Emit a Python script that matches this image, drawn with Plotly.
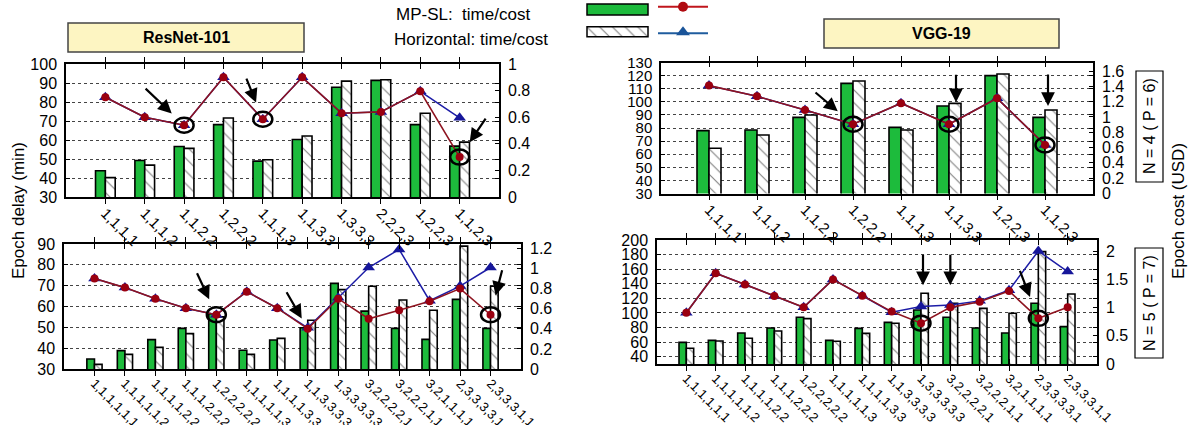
import plotly.graph_objects as go

W, H = 1195, 425

# ---------------- data ----------------
cats_n4_resnet = ["1,1,1,1", "1,1,1,2", "1,1,2,2", "1,2,2,2", "1,1,1,3",
                  "1,1,3,3", "1,3,3,3", "2,2,2,3", "1,2,2,3", "1,1,2,3"]
resnet4_mpsl_time = [43.8, 49.2, 56.6, 68.1, 48.9, 60.3, 87.8, 91.4, 68.1, 56.8]
resnet4_hor_time = [40.2, 46.8, 55.6, 71.6, 49.6, 62.1, 91.0, 91.7, 74.1, 58.9]
resnet4_mpsl_cost = [0.75, 0.60, 0.54, 0.90, 0.585, 0.90, 0.63, 0.64, 0.795, 0.30]
resnet4_hor_cost = [0.75, 0.60, 0.54, 0.90, 0.585, 0.90, 0.63, 0.64, 0.795, 0.595]

cats_n4_vgg = ["1,1,1,1", "1,1,1,2", "1,1,2,2", "1,2,2,2", "1,1,1,3",
               "1,1,3,3", "1,2,2,3", "1,1,2,3"]
vgg4_mpsl_time = [78.0, 78.5, 88.1, 114.1, 80.5, 96.8, 120.0, 88.1]
vgg4_hor_time = [64.5, 74.7, 89.9, 115.9, 78.5, 98.8, 121.2, 93.7]
vgg4_mpsl_cost = [1.41, 1.27, 1.09, 0.905, 1.18, 0.905, 1.245, 0.635]
vgg4_hor_cost = [1.41, 1.27, 1.09, 0.905, 1.18, 0.905, 1.245, 0.635]

cats_n5 = ["1,1,1,1,1,1", "1,1,1,1,1,2", "1,1,1,1,2,2", "1,1,1,2,2,2",
           "1,2,2,2,2,2", "1,1,1,1,1,3", "1,1,1,1,3,3", "1,1,3,3,3,3",
           "1,3,3,3,3,3", "3,2,2,2,2,1", "3,2,2,2,1,1", "3,2,1,1,1,1",
           "2,3,3,3,3,1", "2,3,3,3,1,1"]
resnet5_mpsl_time = [34.8, 38.8, 44.1, 49.5, 56.5, 39.0, 43.9, 49.8, 71.1, 57.8, 49.5, 44.2, 63.4, 49.5]
resnet5_hor_time = [32.2, 37.0, 40.4, 47.0, 55.0, 37.0, 44.7, 53.4, 68.1, 69.7, 63.1, 58.2, 89.0, 69.7]
resnet5_mpsl_cost = [0.90, 0.81, 0.70, 0.605, 0.54, 0.77, 0.605, 0.40, 0.70, 0.50, 0.585, 0.675, 0.80, 0.54]
resnet5_hor_cost = [0.90, 0.81, 0.70, 0.605, 0.54, 0.77, 0.605, 0.41, 0.71, 1.01, 1.19, 0.68, 0.825, 1.01]

vgg5_mpsl_time = [59.7, 62.4, 72.5, 79.4, 94.0, 62.4, 78.9, 87.1, 104.0, 94.0, 79.4, 72.5, 113.2, 81.2]
vgg5_hor_time = [51.5, 61.5, 65.2, 75.2, 92.2, 61.1, 72.0, 85.8, 126.9, 113.2, 106.3, 99.5, 184.0, 126.0]
vgg5_mpsl_cost = [0.91, 1.61, 1.41, 1.205, 1.005, 1.50, 1.21, 0.93, 0.725, 1.005, 1.105, 1.295, 0.81, 1.005]
vgg5_hor_cost = [0.91, 1.61, 1.41, 1.205, 1.005, 1.50, 1.21, 0.92, 1.02, 1.045, 1.12, 1.31, 2.005, 1.64]

left_ticks_tl = [30, 40, 50, 60, 70, 80, 90, 100]
right_ticks_tl = [0, 0.2, 0.4, 0.6, 0.8, 1]
left_ticks_tr = [30, 40, 50, 60, 70, 80, 90, 100, 110, 120, 130]
right_ticks_tr = [0, 0.2, 0.4, 0.6, 0.8, 1, 1.2, 1.4, 1.6]
left_ticks_bl = [30, 40, 50, 60, 70, 80, 90]
right_ticks_bl = [0, 0.2, 0.4, 0.6, 0.8, 1, 1.2]
left_ticks_br = [40, 60, 80, 100, 120, 140, 160, 180, 200]
right_ticks_br = [0, 0.5, 1, 1.5, 2]

# ---------------- styles ----------------
FONT = "Liberation Sans, Arial, Helvetica, sans-serif"
GREEN = "#1dbb3c"
RED_L = "#8e1420"
RED_M = "#9a0010"
BLUE_L = "#1c1ca6"
BLUE_M = "#16169a"


def px(x):
    return x / W


def py(y):
    return 1 - y / H


fig = go.Figure()

panels = [
    # cats, times, costs, x-domain px, y-domain px, ranges, ticks, x-label size, left-label size
    (cats_n4_resnet, resnet4_mpsl_time, resnet4_hor_time, resnet4_mpsl_cost, resnet4_hor_cost,
     (66, 499), (64, 197), (30, 100), (0, 1.0), left_ticks_tl, right_ticks_tl, 15, 16),
    (cats_n4_vgg, vgg4_mpsl_time, vgg4_hor_time, vgg4_mpsl_cost, vgg4_hor_cost,
     (661, 1093), (62.5, 193.5), (30, 130), (0, 1.712), left_ticks_tr, right_ticks_tr, 15, 15),
    (cats_n5, resnet5_mpsl_time, resnet5_hor_time, resnet5_mpsl_cost, resnet5_hor_cost,
     (64, 521), (244, 369), (30, 90), (0, 1.244), left_ticks_bl, right_ticks_bl, 13, 16),
    (cats_n5, vgg5_mpsl_time, vgg5_hor_time, vgg5_mpsl_cost, vgg5_hor_cost,
     (657, 1097), (240, 364), (30, 200), (0, 2.2), left_ticks_br, right_ticks_br, 13, 16),
]

layout_axes = {}
for i, (cats, mt, ht, mc, hc, xd, yd, lr, rr, lt, rt, xfs, lfs) in enumerate(panels):
    xi = i + 1
    yl = 2 * i + 1
    yr = 2 * i + 2
    xname = "x" if xi == 1 else f"x{xi}"
    ylname = "y" if yl == 1 else f"y{yl}"
    yrname = f"y{yr}"

    fig.add_trace(go.Bar(x=cats, y=mt, xaxis=xname, yaxis=ylname, width=0.25, offset=-0.25,
                         marker=dict(color=GREEN, line=dict(color="black", width=1.6)),
                         showlegend=False))
    fig.add_trace(go.Bar(x=cats, y=ht, xaxis=xname, yaxis=ylname, width=0.25, offset=0,
                         marker=dict(color="white", line=dict(color="black", width=1.6),
                                     pattern=dict(shape="\\", fgcolor="black", bgcolor="white",
                                                  size=9, solidity=0.12)),
                         showlegend=False))
    fig.add_trace(go.Scatter(x=cats, y=hc, xaxis=xname, yaxis=yrname, mode="lines+markers",
                             line=dict(color=BLUE_L, width=1.5),
                             marker=dict(symbol="triangle-up", size=11, color=BLUE_M),
                             showlegend=False))
    fig.add_trace(go.Scatter(x=cats, y=mc, xaxis=xname, yaxis=yrname, mode="lines+markers",
                             line=dict(color=RED_L, width=1.6),
                             marker=dict(symbol="circle", size=8, color=RED_M),
                             showlegend=False))

    n = len(cats)
    layout_axes[f"xaxis{'' if xi == 1 else xi}"] = dict(
        domain=[px(xd[0]), px(xd[1])], anchor=ylname, type="category",
        range=[-1, n], showline=True, linecolor="black", linewidth=1.5, mirror="allticks",
        ticks="inside", ticklen=5, tickcolor="black", tickwidth=1.2, tickangle=45,
        tickfont=dict(family=FONT, size=xfs, color="black"), showgrid=False, zeroline=False,
        fixedrange=True, automargin=False)
    layout_axes[f"yaxis{'' if yl == 1 else yl}"] = dict(
        domain=[py(yd[1]), py(yd[0])], anchor=xname, range=list(lr), tickvals=lt,
        showline=True, linecolor="black", linewidth=1.5, mirror="ticks",
        ticks="inside", ticklen=4, tickcolor="black", showgrid=True, gridcolor="#444",
        griddash="dot", gridwidth=1, zeroline=False, ticklabelstandoff=4,
        tickfont=dict(family=FONT, size=lfs, color="black"), fixedrange=True, automargin=False)
    layout_axes[f"yaxis{yr}"] = dict(
        overlaying=ylname, side="right", anchor=xname, range=list(rr), tickvals=rt,
        ticks="inside", ticklen=4, tickcolor="black", showgrid=False, zeroline=False,
        showline=False, ticklabelstandoff=8,
        tickfont=dict(family=FONT, size=16, color="black"), fixedrange=True, automargin=False)

# overlay pixel axis for legend swatches
layout_axes["xaxis5"] = dict(domain=[0, 1], anchor="y9", range=[0, W], visible=False,
                             fixedrange=True, automargin=False)
layout_axes["yaxis9"] = dict(domain=[0, 1], anchor="x5", range=[H, 0], visible=False,
                             fixedrange=True, automargin=False)

fig.add_trace(go.Bar(y=[9.5], x=[61], base=[587], width=[11], orientation="h",
                     xaxis="x5", yaxis="y9", showlegend=False,
                     marker=dict(color=GREEN, line=dict(color="black", width=1.5))))
fig.add_trace(go.Bar(y=[31.7], x=[61], base=[587], width=[10], orientation="h",
                     xaxis="x5", yaxis="y9", showlegend=False,
                     marker=dict(color="white", line=dict(color="black", width=1.5),
                                 pattern=dict(shape="\\", fgcolor="black", bgcolor="white",
                                              size=9, solidity=0.12))))
fig.add_trace(go.Scatter(x=[658, 683, 708], y=[6.7, 6.7, 6.7], xaxis="x5", yaxis="y9",
                         mode="lines", line=dict(color="#c0161c", width=2), showlegend=False))
fig.add_trace(go.Scatter(x=[683], y=[6.7], xaxis="x5", yaxis="y9", mode="markers",
                         marker=dict(symbol="circle", size=10, color="#b00a10"), showlegend=False))
fig.add_trace(go.Scatter(x=[658, 708], y=[33.3, 33.3], xaxis="x5", yaxis="y9",
                         mode="lines", line=dict(color="#1f5c9e", width=2), showlegend=False))
fig.add_trace(go.Scatter(x=[683], y=[32.3], xaxis="x5", yaxis="y9", mode="markers",
                         marker=dict(symbol="triangle-up", size=12, color="#1a5499"),
                         showlegend=False))

shapes = []
annotations = []


def text(x, y, t, size=16, angle=0, xanchor="center"):
    annotations.append(dict(x=px(x), y=py(y), xref="paper", yref="paper", text=t,
                            showarrow=False, textangle=angle, xanchor=xanchor, yanchor="middle",
                            font=dict(family=FONT, size=size, color="black")))


# title boxes
for (x0, y0, x1, y1, txt) in [(68, 23, 304, 52, "ResNet-101"), (824, 19, 1059, 48, "VGG-19")]:
    shapes.append(dict(type="rect", xref="paper", yref="paper", x0=px(x0), x1=px(x1),
                       y0=py(y1), y1=py(y0), fillcolor="#fdf5c2",
                       line=dict(color="#444", width=1.5), layer="below"))
    text((x0 + x1) / 2, (y0 + y1) / 2, f"<b>{txt}</b>", 16)

# N boxes
for (x0, y0, x1, y1, txt) in [(1136, 71, 1163, 182, "N = 4 ( P = 6)"),
                              (1135, 248, 1163, 358, "N = 5 ( P = 7)")]:
    shapes.append(dict(type="rect", xref="paper", yref="paper", x0=px(x0), x1=px(x1),
                       y0=py(y1), y1=py(y0), fillcolor="white",
                       line=dict(color="black", width=1.2)))
    text((x0 + x1) / 2, (y0 + y1) / 2, txt, 16, -90)

# axis titles
text(18, 211, "Epoch delay (min)", 17, -90)
text(1178, 211, "Epoch cost (USD)", 17, -90)

# legend texts
text(394, 14, "MP-SL:  time/cost", 17, 0, "left")
text(392, 39.5, "Horizontal: time/cost", 17, 0, "left")


def circle(xref, yref, idx, val):
    shapes.append(dict(type="circle", xref=xref, yref=yref, xsizemode="pixel", ysizemode="pixel",
                       xanchor=idx, yanchor=val, x0=-9.5, x1=9.5, y0=-7.5, y1=7.5,
                       line=dict(color="black", width=2.5)))


def arrow(xref, yref, idx, val, ax, ay, standoff, xshift=0):
    annotations.append(dict(x=idx, y=val, xref=xref, yref=yref, ax=ax, ay=ay, text="",
                            showarrow=True, arrowhead=2, arrowsize=1.25, arrowwidth=2.2,
                            arrowcolor="black", standoff=standoff, xshift=xshift))


# top-left highlights
for k in [2, 4, 9]:
    circle("x", "y2", k, resnet4_mpsl_cost[k])
arrow("x", "y2", 2, resnet4_mpsl_cost[2], -40, -38, 17)
arrow("x", "y2", 4, resnet4_mpsl_cost[4], -17, -42, 18)
arrow("x", "y2", 9, resnet4_mpsl_cost[9], 27, -40, 18)

# top-right highlights
for k in [3, 5, 7]:
    circle("x2", "y4", k, vgg4_mpsl_cost[k])
arrow("x2", "y4", 3, vgg4_mpsl_cost[3], -39, -33, 20)
arrow("x2", "y3", 5, vgg4_hor_time[5], 0, -30, 1, xshift=7)
arrow("x2", "y3", 7, vgg4_hor_time[7], 0, -37, 4, xshift=3)

# bottom-left highlights
for k in [4, 13]:
    circle("x3", "y6", k, resnet5_mpsl_cost[k])
arrow("x3", "y6", 4, resnet5_mpsl_cost[4], -20, -43, 17)
arrow("x3", "y6", 7, resnet5_mpsl_cost[7], -22, -38, 12)
arrow("x3", "y6", 13, resnet5_mpsl_cost[13], 12, -46, 20)

# bottom-right highlights
for k in [8, 12]:
    circle("x4", "y8", k, vgg5_mpsl_cost[k])
arrow("x4", "y7", 8, vgg5_hor_time[8], 0, -40, 8, xshift=2)
arrow("x4", "y7", 9, vgg5_hor_time[9], 0, -50, 18, xshift=0)
arrow("x4", "y8", 12, vgg5_mpsl_cost[12], -19, -49, 23)

fig.update_layout(
    width=W, height=H, margin=dict(l=0, r=0, t=0, b=0, pad=0, autoexpand=False),
    paper_bgcolor="white", plot_bgcolor="rgba(0,0,0,0)",
    barmode="overlay", showlegend=False,
    shapes=shapes, annotations=annotations,
    font=dict(family=FONT, color="black"),
    **layout_axes,
)

fig.write_html("out.html", config={"displayModeBar": False},
               post_script="document.body.style.margin='0px';document.body.style.overflow='hidden';")
